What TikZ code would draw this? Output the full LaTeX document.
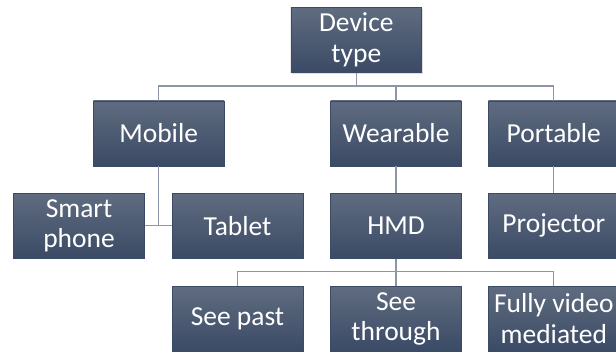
\documentclass[tikz,border=0pt]{standalone}
\usepackage{fontspec}
\setmainfont{Carlito}
\usetikzlibrary{shadows}
\definecolor{ctop}{HTML}{5F6C80}
\definecolor{cbot}{HTML}{3B4A65}
\definecolor{cln}{HTML}{8C96A8}
\tikzset{
    box/.style={minimum width=98pt, minimum height=48.75pt, inner sep=0pt, align=center,
        top color=ctop, bottom color=cbot, draw=cbot, line width=.3pt, text=white,
        font=\fontsize{20.6}{23}\selectfont,
        drop shadow={shadow xshift=.8pt, shadow yshift=-.8pt, opacity=.25}},
    link/.style={draw=cln, line width=1pt}
}

\begin{document}
\begin{tikzpicture}[x=.75pt, y=-.75pt]
    \useasboundingbox(0, 0) rectangle (616, 354);
    \coordinate (bus) at (0, 86);
    \coordinate (bush) at (0, 271.7);
    \node[box] (dev) at (356.3, 40) {Device\\type};
    \node[box] (mob) at (158.7, 133.2) {Mobile};
    \node[box] (wear) at (396, 133.2) {Wearable};
    \node[box] (port) at (553.8, 133.2) {Portable};
    \node[box] (phone) at (79, 225.8) {Smart\\phone};
    \node[box] (tab) at (237.5, 225.8) {Tablet};
    \node[box] (hmd) at (396, 225.8) {HMD};
    \node[box] (proj) at (553.8, 225.8) {Projector};
    \node[box] (past) at (237.5, 318.8) {See past};
    \node[box] (thru) at (396, 318.8) {See\\through};
    \node[box] (full) at (553.8, 318.8) {Fully video\\mediated};
    \draw[link](dev.south)--(bus -| dev);
    \draw[link](mob.north)|-(bus -| port)--(port.north);
    \draw[link](wear.north)--(bus -| wear);
    \draw[link](mob.south)--(mob |- phone);
    \draw[link](phone.east)--(tab.west);
    \draw[link](wear.south)--(hmd.north);
    \draw[link](port.south)--(proj.north);
    \draw[link](hmd.south)--(thru.north);
    \draw[link](past.north)|-(bush -| full)--(full.north);
\end{tikzpicture}
\end{document}
